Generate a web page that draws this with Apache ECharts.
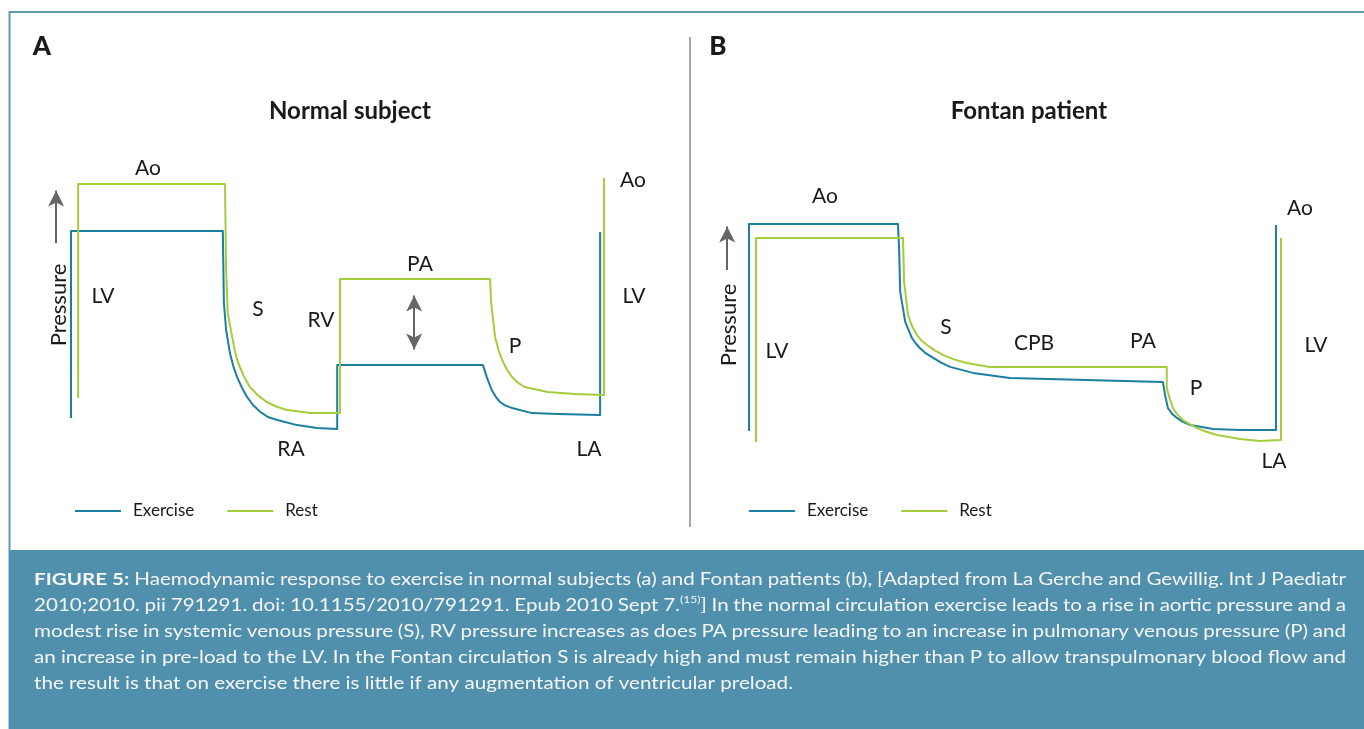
<!DOCTYPE html>
<html>
<head>
<meta charset="utf-8">
<script src="https://cdn.jsdelivr.net/npm/echarts@6/dist/echarts.min.js"></script>
<style>
html,body{margin:0;padding:0;background:#fff;}
#chart{width:1364px;height:729px;}
</style>
</head>
<body>
<div id="chart"></div>
<script>
// ---------- DATA (schematic pressure traces, arbitrary units: time 0-100, pressure 0-100) ----------
const seriesNames = ['Exercise', 'Rest'];

// Panel A: Normal subject
const exerciseA_x = [2, 2, 29.6, 29.8, 30.2, 30.9, 31.5, 32.2, 33.1, 34, 35.1, 36.4, 37.8, 39.5, 43.1, 46.7, 50.4, 50.4, 76.9, 77.6, 78.5, 79.2, 80, 81, 82.2, 85.8, 90.5, 98.2, 98.2];
const exerciseA_y = [10.7, 73, 73, 49, 40, 32.3, 28, 24.3, 20.7, 17.7, 15, 12.7, 11, 10, 8.3, 7.3, 7, 28.3, 28.3, 24.3, 20, 17.8, 16, 14.8, 14, 12.3, 12, 11.7, 72.7];
const restA_x = [3.3, 3.3, 30, 30.2, 30.5, 31.3, 31.8, 32.4, 33.4, 34.5, 36, 37.6, 39.3, 41.3, 45.5, 50.9, 50.9, 78.2, 78.4, 79.1, 79.7, 80.4, 81.2, 82.2, 83.3, 84.5, 88.7, 93.6, 98.9, 98.9];
const restA_y = [17.3, 88.7, 88.7, 60, 45.7, 37.7, 33, 29, 24.7, 21, 18.2, 16, 14.5, 13.3, 12.3, 12.3, 57, 57, 49, 37.7, 33.5, 30, 27, 24.3, 22.4, 21, 19.3, 18.7, 18.3, 90.7];

// Panel B: Fontan patient
const exerciseB_x = [2.5, 2.5, 29.1, 29.3, 29.5, 30.4, 31.6, 32.3, 33, 34.1, 35.4, 36.8, 38.4, 42.5, 49.1, 76.4, 76.8, 77.3, 78, 78.9, 80, 81.3, 85.4, 90.2, 96.6, 96.6];
const exerciseB_y = [6.3, 75.3, 75.3, 67.3, 52.7, 42.7, 37.3, 35.5, 34, 32.2, 30.7, 29.1, 27.7, 25.7, 24, 22.7, 18.3, 14, 12.2, 10.7, 9.4, 8.3, 7, 6.7, 6.7, 75];
const restB_x = [3.75, 3.75, 30, 30.2, 30.9, 31.6, 32.5, 33.3, 34.3, 35.6, 37.1, 39.1, 41.4, 45.5, 49.1, 77.1, 77.1, 77.6, 78.2, 79, 80, 81.2, 82.5, 84.2, 86.1, 90.2, 93.75, 97.5, 97.5];
const restB_y = [2.7, 70.7, 70.7, 56, 45, 41.3, 38.3, 36.5, 35, 33.3, 31.7, 30.2, 29, 27.7, 27.7, 27.7, 20.7, 17.2, 14, 11.8, 10, 8.6, 7.3, 6.1, 5, 3.7, 3, 3.3, 70.7];

// Arrows (data units): pressure axis arrow and PA-difference double arrow
const pressureArrowA = [[-0.7, 69], [-0.7, 86.5]];
const paDiffArrowA = [[64.4, 51.5], [64.4, 33.5]];
const pressureArrowB = [[-1.4, 60], [-1.4, 74.5]];

// Text
const panelLetters = ['A', 'B'];
const panelTitles = ['Normal subject', 'Fontan patient'];
const axisLabel = 'Pressure';
const labelsA = ['Ao', 'Ao', 'LV', 'S', 'RV', 'PA', 'P', 'LV', 'RA', 'LA'];
const labelsB = ['Ao', 'Ao', 'LV', 'S', 'CPB', 'PA', 'P', 'LV', 'LA'];
const captionLines = [
  'FIGURE 5: Haemodynamic response to exercise in normal subjects (a) and Fontan patients (b), [Adapted from La Gerche and Gewillig. Int J Paediatr',
  '2010;2010. pii 791291. doi: 10.1155/2010/791291. Epub 2010 Sept 7.^(15)^] In the normal circulation exercise leads to a rise in aortic pressure and a',
  'modest rise in systemic venous pressure (S), RV pressure increases as does PA pressure leading to an increase in pulmonary venous pressure (P) and',
  'an increase in pre-load to the LV. In the Fontan circulation S is already high and must remain higher than P to allow transpulmonary blood flow and',
  'the result is that on exercise there is little if any augmentation of ventricular preload.'
];
const captionBoldWords = 2;

// ---------- STYLE / LAYOUT ----------
const BLUE = '#1b7f9f';
const GREEN = '#a4cd3b';
const TXT = '#1a1a1a';
const FONT = 'Lato, "Noto Sans", sans-serif';

const labelPosA = [[148,168],[633,180],[103,296],[258,309],[321,320],[420,264],[515,346],[634,296],[291,449],[589,449]];
const labelPosB = [[825,196],[1300,208],[777,351],[946,327],[1034,343],[1143,341],[1196,388],[1316,345],[1274,461]];

function zip(xs, ys){ return xs.map((x,i)=>[x, ys[i]]); }

const chart = echarts.init(document.getElementById('chart'), null, {renderer:'canvas'});

const graphic = [];
// outer frame
graphic.push({type:'rect', shape:{x:9.5, y:12, width:1370, height:730}, style:{fill:'none', stroke:'#5a9ab6', lineWidth:2}, z:0});
// caption box
graphic.push({type:'rect', shape:{x:9, y:550, width:1360, height:185}, style:{fill:'#5190ad'}, z:1});
// divider
graphic.push({type:'line', shape:{x1:690, y1:37, x2:690, y2:527}, style:{stroke:'#a8a8a8', lineWidth:2}});

function txt(t, x, y, opts){
  opts = opts || {};
  return {type:'text', x:x, y:y, rotation: opts.rotation || 0, z:10,
    style:{text:t, fill: opts.fill || TXT, font: opts.font || ('normal 21px ' + FONT),
      align: opts.align || 'center', verticalAlign: opts.va || 'middle'}};
}
graphic.push(txt(panelLetters[0], 42, 47, {font:'900 26px ' + FONT}));
graphic.push(txt(panelLetters[1], 718, 47, {font:'900 26px ' + FONT}));
graphic.push(txt(panelTitles[0], 350, 111, {font:'bold 24px ' + FONT}));
graphic.push(txt(panelTitles[1], 1029, 111, {font:'bold 24px ' + FONT}));
graphic.push(txt(axisLabel, 59, 305, {rotation:Math.PI/2, font:'normal 22px ' + FONT}));
graphic.push(txt(axisLabel, 729, 325, {rotation:Math.PI/2, font:'normal 22px ' + FONT}));
labelsA.forEach((l,i)=>graphic.push(txt(l, labelPosA[i][0], labelPosA[i][1])));
labelsB.forEach((l,i)=>graphic.push(txt(l, labelPosB[i][0], labelPosB[i][1])));

// caption with justified lines (horizontally stretched to the reference's type width)
(function(){
  const ctx = document.createElement('canvas').getContext('2d');
  const fs = 17;
  const fN = 'normal ' + fs + 'px ' + FONT;
  const fB = 'bold ' + fs + 'px ' + FONT;
  const fS = 'normal 10px ' + FONT;
  function mw(t, f){ ctx.font = f; return ctx.measureText(t).width; }
  const left = 34, right = 1346, y0 = 580, lh = 26, lastLineWidth = 759;
  const sx = lastLineWidth / mw(captionLines[captionLines.length - 1], fN);
  captionLines.forEach((line, li) => {
    const words = line.split(' ');
    const toks = words.map((w, wi) => {
      const bold = (li === 0 && wi < captionBoldWords);
      const parts = w.split('^');
      const segs = parts.map((p, pi) => ({t:p, sup: pi % 2 === 1, bold:bold})).filter(s=>s.t.length);
      let width = 0;
      segs.forEach(s => { s.w = mw(s.t, s.sup ? fS : (s.bold ? fB : fN)) * sx; width += s.w; });
      return {segs, width};
    });
    const total = toks.reduce((a,t)=>a+t.width, 0);
    const justify = li < captionLines.length - 1;
    const gap = justify ? (right - left - total) / (toks.length - 1) : mw(' ', fN) * sx;
    let x = left;
    const y = y0 + li * lh;
    toks.forEach(tk => {
      let px = x;
      tk.segs.forEach(s => {
        graphic.push({type:'text', x:px, y: s.sup ? y - 6 : y, scaleX: sx, z:10,
          style:{text:s.t, fill:'#f5f7f8', font: s.sup ? fS : (s.bold ? fB : fN), align:'left', verticalAlign:'middle'}});
        px += s.w;
      });
      x += tk.width + gap;
    });
  });
})();

const arrowLine = {color:'#666', width:2, type:'solid'};
const legendBase = {icon:'rect', itemWidth:46, itemHeight:2, itemGap:33, padding:0, top:501, selectedMode:false,
  textStyle:{fontSize:17, fontFamily:FONT, color:TXT, padding:[0,0,0,7], lineHeight:20}};

const option = {
  animation: false,
  backgroundColor: '#fff',
  grid: [
    {left: 5, top: 150, width: 605, height: 300},
    {left: 679, top: 150, width: 616, height: 300}
  ],
  xAxis: [
    {gridIndex:0, type:'value', min:-10, max:100, show:false},
    {gridIndex:1, type:'value', min:-10, max:100, show:false}
  ],
  yAxis: [
    {gridIndex:0, type:'value', min:0, max:100, show:false},
    {gridIndex:1, type:'value', min:0, max:100, show:false}
  ],
  legend: [
    Object.assign({data: seriesNames, left: 75}, legendBase),
    Object.assign({data: seriesNames, left: 749}, legendBase)
  ],
  series: [
    {name:'Exercise', type:'line', xAxisIndex:0, yAxisIndex:0, data: zip(exerciseA_x, exerciseA_y),
      symbol:'none', color:BLUE, lineStyle:{width:2, color:BLUE, join:'round'}, clip:false, z:2,
      markLine:{silent:true, symbol:['none','arrow'], symbolSize:[12,16], lineStyle:arrowLine, label:{show:false},
        data:[
          [{coord: pressureArrowA[0]}, {coord: pressureArrowA[1]}],
          [{coord: paDiffArrowA[0], symbol:'arrow'}, {coord: paDiffArrowA[1]}]
        ]}},
    {name:'Rest', type:'line', xAxisIndex:0, yAxisIndex:0, data: zip(restA_x, restA_y),
      symbol:'none', color:GREEN, lineStyle:{width:2, color:GREEN, join:'round'}, clip:false, z:3},
    {name:'Exercise', type:'line', xAxisIndex:1, yAxisIndex:1, data: zip(exerciseB_x, exerciseB_y),
      symbol:'none', color:BLUE, lineStyle:{width:2, color:BLUE, join:'round'}, clip:false, z:2,
      markLine:{silent:true, symbol:['none','arrow'], symbolSize:[12,16], lineStyle:arrowLine, label:{show:false},
        data:[[{coord: pressureArrowB[0]}, {coord: pressureArrowB[1]}]]}},
    {name:'Rest', type:'line', xAxisIndex:1, yAxisIndex:1, data: zip(restB_x, restB_y),
      symbol:'none', color:GREEN, lineStyle:{width:2, color:GREEN, join:'round'}, clip:false, z:3}
  ],
  graphic: graphic
};
chart.setOption(option);
</script>
</body>
</html>
